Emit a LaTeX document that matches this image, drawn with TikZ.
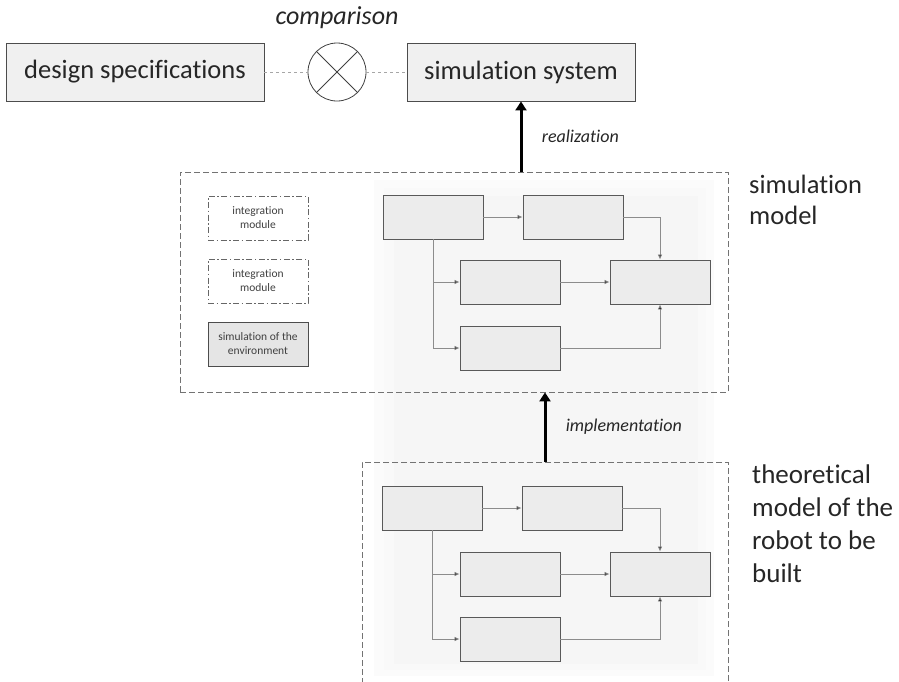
\documentclass[tikz,border=0pt]{standalone}
\usepackage{fontspec}
\setmainfont[Ligatures=CommonOff]{Carlito}
\usetikzlibrary{arrows.meta}

\tikzset{
  bigbox/.style={draw=black!70, fill=gray!12, line width=0.9pt, minimum height=58pt, font=\fontsize{26.5}{30}\selectfont, text=black!85},
  flowbox/.style={draw=black!65, fill=gray!15, line width=0.9pt, minimum width=100pt, minimum height=44pt},
  modbox/.style={draw=black!60, dash pattern=on 6pt off 2.5pt on 1.5pt off 2.5pt, line width=0.7pt, minimum width=100pt, minimum height=44pt, align=center, font=\fontsize{11.5}{14}\selectfont, text=black!75},
  envbox/.style={modbox, solid, fill=gray!20, draw=black!70},
  flowline/.style={draw=black!45, line width=0.7pt, -{Latex[length=5pt,width=4.5pt,fill=black]}},
  bigarrow/.style={line width=3pt, -{Triangle[length=9pt,width=11pt]}},
  frame/.style={draw=black!55, dash pattern=on 6pt off 3pt, line width=0.8pt, inner sep=0pt},
  caption/.style={font=\fontsize{26.5}{31}\selectfont, align=left, anchor=north west, inner sep=0pt, text=black!85},
  arrowlabel/.style={font=\itshape\fontsize{18}{20}\selectfont, text=black!85}
}

\begin{document}
\begin{tikzpicture}[x=1pt,y=-1pt]
\useasboundingbox (0,0) rectangle (899,681);

% soft background
\fill[gray!3] (374,180) rectangle (714,676);
\fill[gray!5] (384,188) rectangle (706,670);
\fill[gray!7] (394,196) rectangle (698,664);

% top row
\node[bigbox, minimum width=258pt] (spec) at (135,72) {design specifications};
\node[bigbox, minimum width=228pt] (sys) at (521,72) {simulation system};
\node[draw=black!75, line width=0.8pt, circle, minimum size=58pt, inner sep=0pt] (cmp) at (337,72) {};
\draw[black!75, line width=0.8pt] (cmp.45) -- (cmp.225) (cmp.135) -- (cmp.315);
\node[font=\itshape\fontsize{26}{28}\selectfont, text=black!85] (cmplabel) at (337,18) {comparison};
\draw[gray!70, dashed, line width=0.6pt] (spec.east) -- (cmp.west);
\draw[gray!70, dashed, line width=0.6pt] (cmp.east) -- (sys.west);

% simulation model
\node[frame, minimum width=548pt, minimum height=220pt] (simmodel) at (454,282) {};
\node[caption] (simlabel) at (749,175) {simulation\\model};
\draw[bigarrow] (simmodel.north -| sys.south) -- (sys.south) node[midway, right=16pt, arrowlabel] {realization};

\node[modbox] (int1) at (258,218) {integration\\module};
\node[modbox] (int2) at (258,281) {integration\\module};
\node[envbox] (env) at (258,344) {simulation of the\\environment};

\node[flowbox] (a1) at (433,217) {};
\node[flowbox] (b1) at (573,217) {};
\node[flowbox] (c1) at (510,282) {};
\node[flowbox] (d1) at (660,282) {};
\node[flowbox] (e1) at (510,348) {};
\draw[flowline] (a1.east) -- (b1.west);
\draw[flowline] (b1.east) -| (d1.north);
\draw[flowline] (a1.south) |- (c1.west);
\draw[flowline] (a1.south) |- (e1.west);
\draw[flowline] (c1.east) -- (d1.west);
\draw[flowline] (e1.east) -| (d1.south);

% theoretical model
\node[frame, minimum width=366pt, minimum height=240pt] (theory) at (545,582) {};
\node[caption, font=\fontsize{27}{33}\selectfont] (theolabel) at (752,465) {theoretical\\model of the\\robot to be\\built};
\draw[bigarrow] (theory.north) -- (theory.north |- simmodel.south) node[midway, right=16pt, arrowlabel] {implementation};

\node[flowbox] (a2) at (432,508) {};
\node[flowbox] (b2) at (572,508) {};
\node[flowbox] (c2) at (510,574) {};
\node[flowbox] (d2) at (660,574) {};
\node[flowbox] (e2) at (510,639) {};
\draw[flowline] (a2.east) -- (b2.west);
\draw[flowline] (b2.east) -| (d2.north);
\draw[flowline] (a2.south) |- (c2.west);
\draw[flowline] (a2.south) |- (e2.west);
\draw[flowline] (c2.east) -- (d2.west);
\draw[flowline] (e2.east) -| (d2.south);
\end{tikzpicture}
\end{document}
